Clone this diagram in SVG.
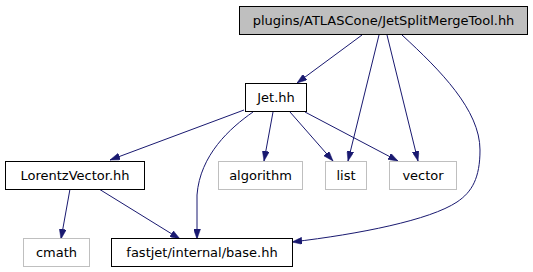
<svg xmlns="http://www.w3.org/2000/svg" width="533" height="272" viewBox="0 0 533 272">
<style>
.n rect{fill:#fff;stroke:#000;stroke-width:1}
.g rect{fill:#fff;stroke:#bfbfbf;stroke-width:1}
.top rect{fill:#bfbfbf;stroke:#000}
text{font-family:"DejaVu Sans",sans-serif;font-size:13px;fill:#000;text-anchor:middle}
.e path{fill:none;stroke:#191970;stroke-width:1;marker-end:url(#a)}
</style>
<defs>
<marker id="a" viewBox="0 0 10 7" refX="10" refY="3.5" markerWidth="10" markerHeight="7" markerUnits="userSpaceOnUse" orient="auto">
<path d="M0,0 L10,3.5 L0,7 Z" fill="#191970" stroke="#191970" stroke-width="0.5"/>
</marker>
</defs>
<rect width="533" height="272" fill="#fff"/>
<g id="edges" class="e">
<path d="M362,35 L297,83"/>
<path d="M379,35 L348,161"/>
<path d="M387,35 L418,161"/>
<path d="M402,35 C440,70 480,110 480,150 C480,178 472,192 457,202 C430,220 360,234 292,242"/>
<path d="M244,110 L110,160"/>
<path d="M253,112 C230,128 200,155 197,195 L197,239"/>
<path d="M273,112 L264,161"/>
<path d="M290,112 L333,161"/>
<path d="M305,112 L398,161"/>
<path d="M70,189 L61,239"/>
<path d="M99,189 L180,239"/>
</g>
<g id="n_top" class="n top"><rect x="239.5" y="6.5" width="288" height="28"/><text x="383.5" y="25">plugins/ATLASCone/JetSplitMergeTool.hh</text></g>
<g id="n_jet" class="n"><rect x="245.5" y="83.5" width="61" height="28"/><text x="276" y="102">Jet.hh</text></g>
<g id="n_lv" class="n"><rect x="5.5" y="161.5" width="139" height="28"/><text x="75" y="180">LorentzVector.hh</text></g>
<g id="n_alg" class="g"><rect x="218.5" y="161.5" width="84" height="28"/><text x="260.5" y="180">algorithm</text></g>
<g id="n_list" class="g"><rect x="325.5" y="161.5" width="41" height="28"/><text x="346" y="180">list</text></g>
<g id="n_vec" class="g"><rect x="389.5" y="161.5" width="67" height="28"/><text x="423" y="180">vector</text></g>
<g id="n_cmath" class="g"><rect x="23.5" y="238.5" width="66" height="28"/><text x="56.5" y="257">cmath</text></g>
<g id="n_base" class="n"><rect x="111.5" y="238.5" width="181" height="28"/><text x="202" y="257">fastjet/internal/base.hh</text></g>
</svg>
